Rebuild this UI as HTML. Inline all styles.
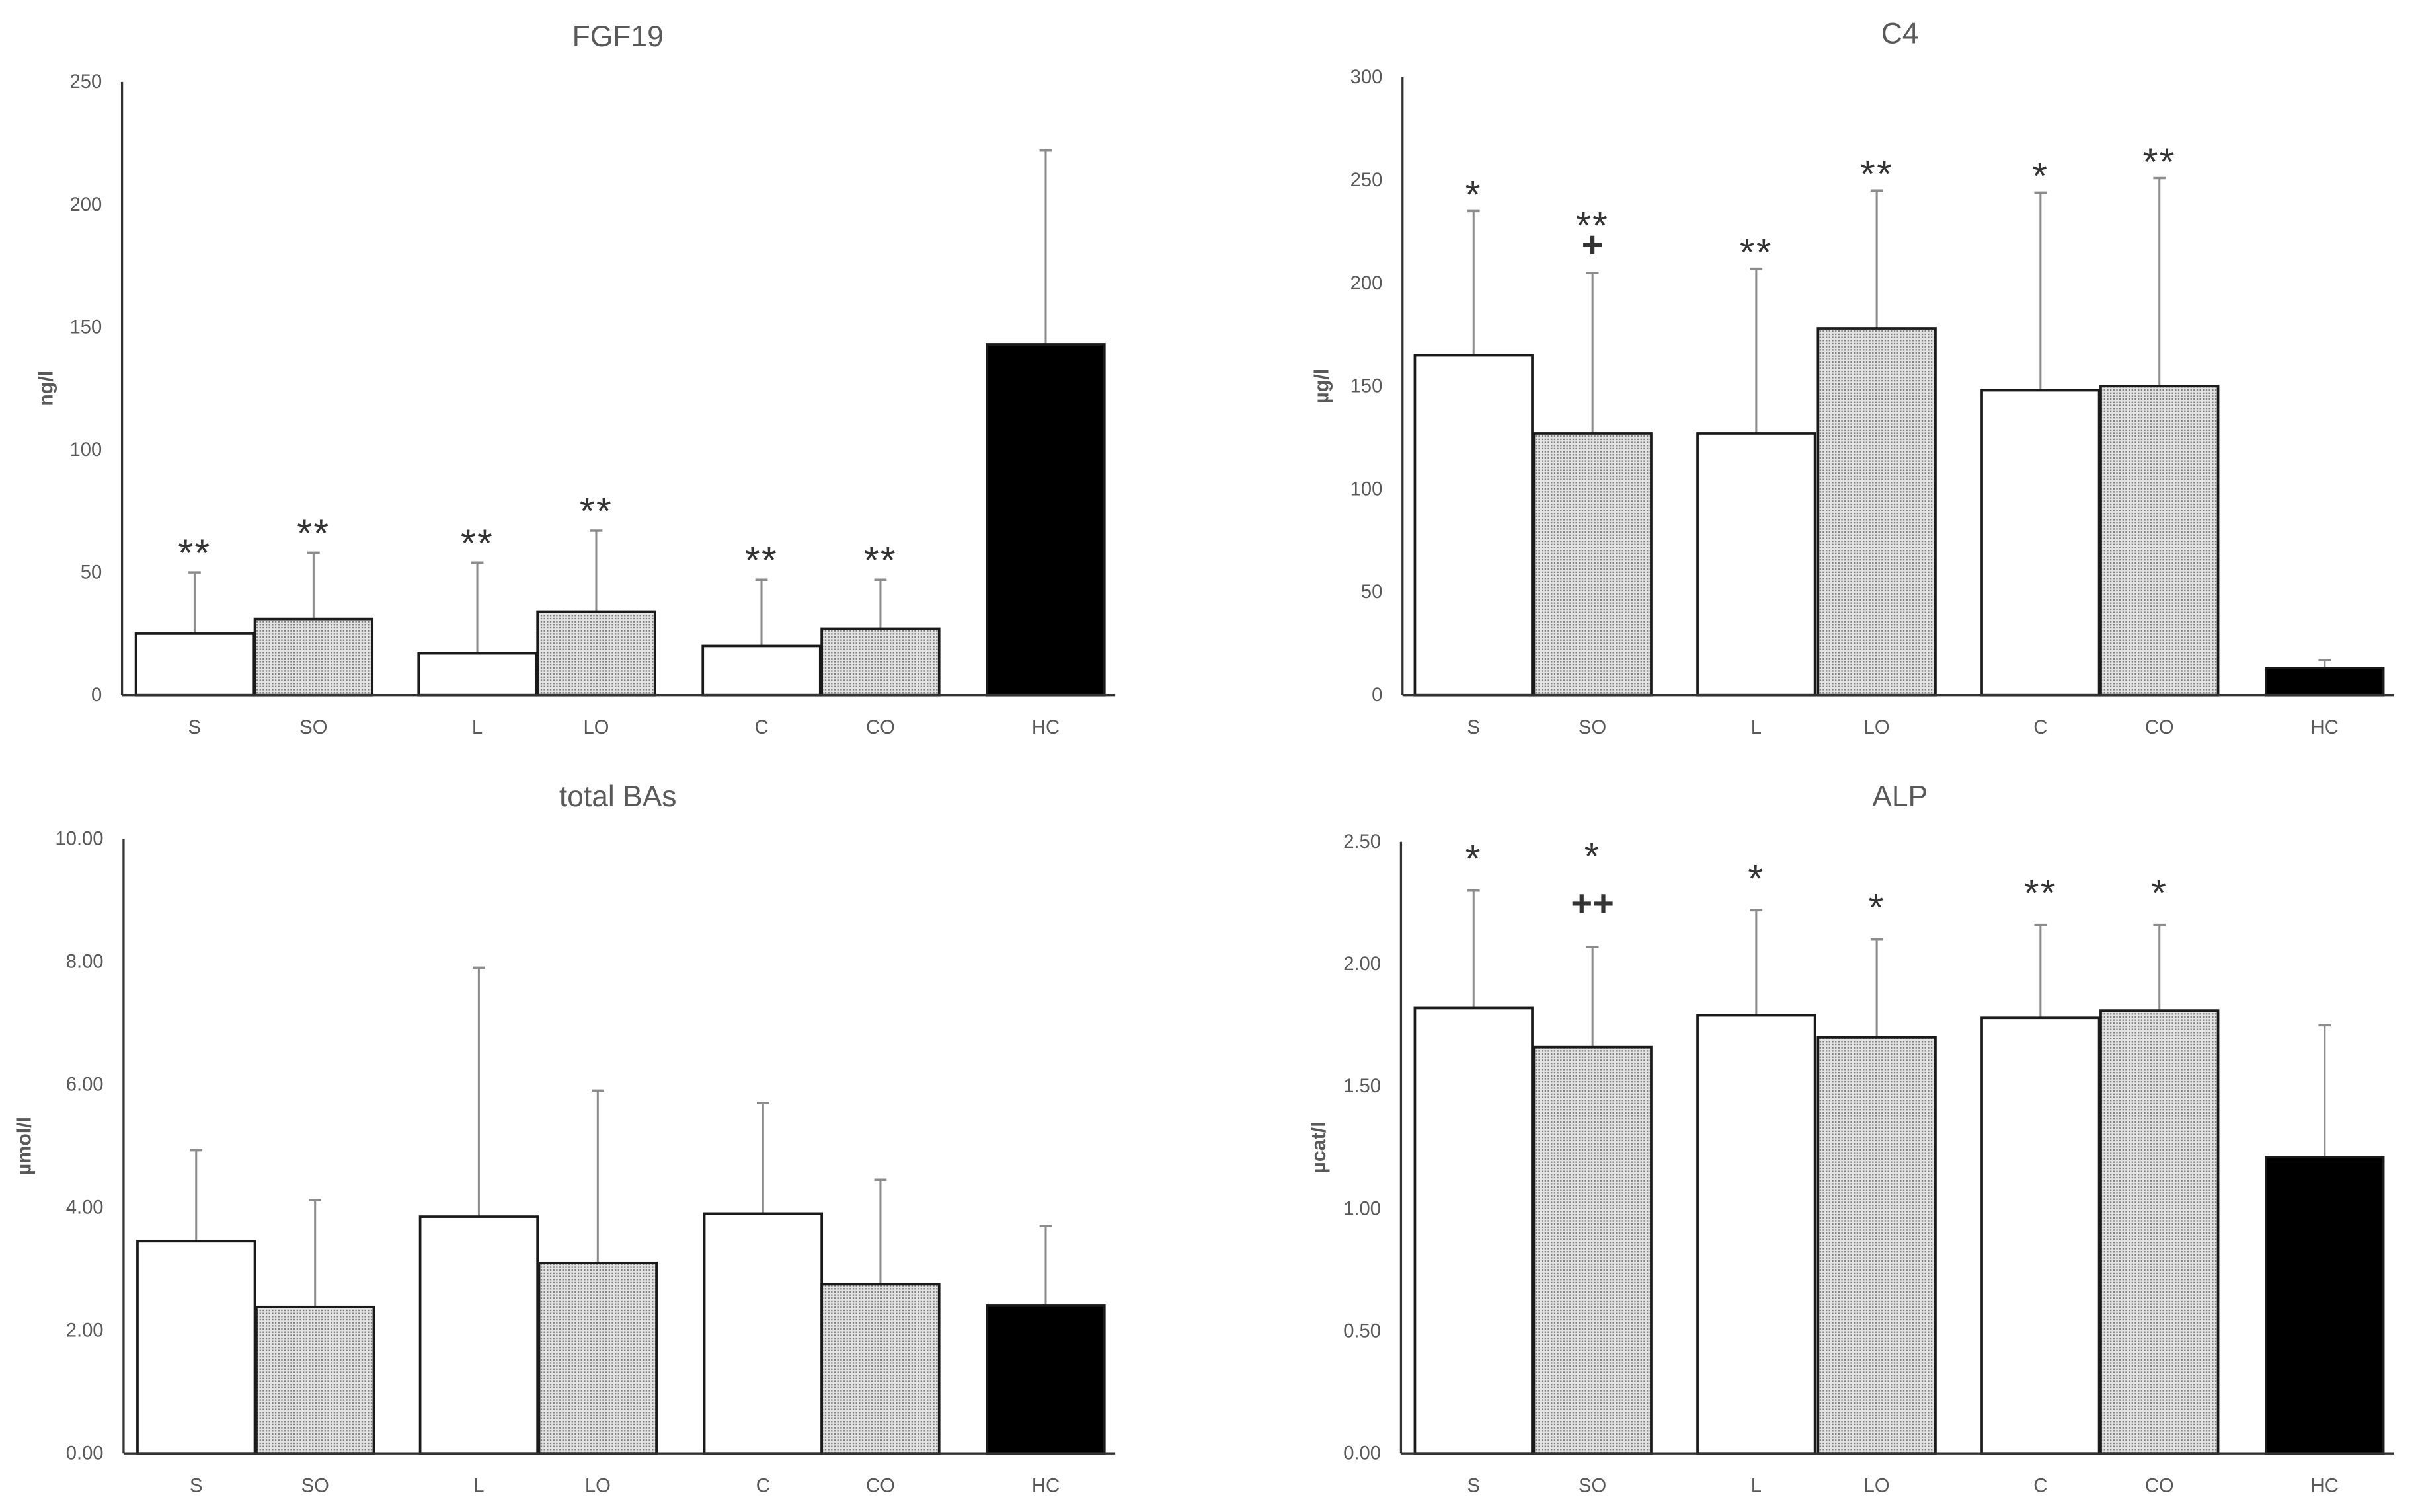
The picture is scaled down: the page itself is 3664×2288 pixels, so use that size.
<!DOCTYPE html>
<html><head><meta charset="utf-8">
<style>
html,body{margin:0;padding:0;background:#fff;}
svg{display:block;}
text{font-family:"Liberation Sans",sans-serif;}
</style></head>
<body>
<svg id="fig" width="3664" height="2288" viewBox="0 0 1568 979" preserveAspectRatio="none" xmlns="http://www.w3.org/2000/svg">
<defs>
<pattern id="dots" patternUnits="userSpaceOnUse" width="2" height="2">
<rect width="2" height="2" fill="#e3e3e3"/>
<rect width="1" height="1" fill="#808080"/>
</pattern>
</defs>
</svg>
<script>
const categories = ["S","SO","L","LO","C","CO","HC"];
const fgfValues = [25,31,17,34,20,27,143];
const fgfErrTop = [50,58,54,67,47,47,222];
const fgfAnnot = [["**"],["**"],["**"],["**"],["**"],["**"],[]];
const fgfTicks = ["0","50","100","150","200","250"];
const c4Values = [165,127,127,178,148,150,13];
const c4ErrTop = [235,205,207,245,244,251,17];
const c4Annot = [["*"],["**","+"],["**"],["**"],["*"],["**"],[]];
const c4Ticks = ["0","50","100","150","200","250","300"];
const baValues = [3.45,2.38,3.85,3.1,3.9,2.75,2.4];
const baErrTop = [4.93,4.12,7.9,5.9,5.7,4.45,3.7];
const baAnnot = [[],[],[],[],[],[],[]];
const baTicks = ["0.00","2.00","4.00","6.00","8.00","10.00"];
const alpValues = [1.82,1.66,1.79,1.70,1.78,1.81,1.21];
const alpErrTop = [2.30,2.07,2.22,2.10,2.16,2.16,1.75];
const alpAnnot = [["*"],["*","++"],["*"],["*"],["**"],["*"],[]];
const alpTicks = ["0.00","0.50","1.00","1.50","2.00","2.50"];

const NS="http://www.w3.org/2000/svg";
const svg=document.getElementById('fig');
function mk(tag,attrs,parent){const e=document.createElementNS(NS,tag);for(const k in attrs)e.setAttribute(k,attrs[k]);(parent||svg).appendChild(e);return e;}

function drawChart(cfg){
  const g=mk('g',{});
  
  
  const ticks=cfg.ticks.map(Number);
  const maxV=ticks[ticks.length-1];
  const y=v=>cfg.base-(v/maxV)*(cfg.base-cfg.top);
  const t=mk('text',{x:cfg.titleX,y:cfg.titleY,'font-size':19,fill:'#595959','text-anchor':'middle'},g);
  t.textContent=cfg.title;
  
  
  const yl=mk('text',{x:0,y:0,'font-size':13,fill:'#595959','text-anchor':'middle','font-weight':'bold',transform:`translate(${cfg.ylabelX},${(cfg.top+cfg.base)/2}) rotate(-90)`},g);
  yl.textContent=cfg.ylabel;
  
  
  cfg.ticks.forEach((lab,i)=>{
    const tt=mk('text',{x:cfg.axisX-13,y:y(ticks[i])+4,'font-size':12.5,fill:'#595959','text-anchor':'end'},g);
    tt.textContent=lab;
    
    
  });
  const bw=76;
  categories.forEach((c,i)=>{
    const x0=cfg.barX[i];
    const cx=x0+bw/2;
    const fill=i===6?'#000':(i%2===1?'url(#dots)':'#fff');
    const eb=mk('line',{x1:cx,x2:cx,y1:y(cfg.values[i]),y2:y(cfg.err[i]),stroke:'#8c8c8c','stroke-width':1.3},g);
    
    
    mk('line',{x1:cx-4,x2:cx+4,y1:y(cfg.err[i]),y2:y(cfg.err[i]),stroke:'#8c8c8c','stroke-width':1.5},g);
    const r=mk('rect',{x:x0,y:y(cfg.values[i]),width:bw,height:cfg.base-y(cfg.values[i]),fill:fill,stroke:'#1a1a1a','stroke-width':1.6},g);
    
    
    const xl=mk('text',{x:cx,y:cfg.base+25,'font-size':12.5,fill:'#595959','text-anchor':'middle'},g);
    xl.textContent=c;
    
    
    const ann=cfg.annot[i];
    for(let k=ann.length-1,row=0;k>=0;k--,row++){
      const isPlus=ann[k].indexOf('+')>=0;
      const base=y(cfg.err[i])-cfg.annOff;
      const yy=isPlus?base-8:base-row*cfg.rowGap;
      const a=mk('text',{x:cx,y:yy,'font-size':isPlus?24:25,fill:'#333','text-anchor':'middle','letter-spacing':isPlus?0:1,'font-weight':isPlus?'bold':'normal'},g);
      a.textContent=ann[k];
      
      
    }
  });
  const ax=mk('line',{x1:cfg.axisX,x2:cfg.axisX,y1:cfg.top,y2:cfg.base,stroke:'#333','stroke-width':1.4},g);
  
  
  const bx=mk('line',{x1:cfg.axisX,x2:cfg.axisEnd,y1:cfg.base,y2:cfg.base,stroke:'#333','stroke-width':1.4},g);
  
  
}
const leftX=[88,165,271,348,455,532,639];
const rightX=[916,993,1099,1177,1283,1360,1467];
drawChart({name:'fgf19-chart',title:'FGF19',titleX:400,titleY:30,ylabel:'ng/l',ylabelX:34,axisX:79,axisEnd:722,top:53,base:450,ticks:fgfTicks,values:fgfValues,err:fgfErrTop,annot:fgfAnnot,barX:leftX,annOff:4,rowGap:20});
drawChart({name:'c4-chart',title:'C4',titleX:1230,titleY:28,ylabel:'µg/l',ylabelX:860,axisX:908,axisEnd:1550,top:50,base:450,ticks:c4Ticks,values:c4Values,err:c4ErrTop,annot:c4Annot,barX:rightX,annOff:2,rowGap:20});
drawChart({name:'total-bas-chart',title:'total BAs',titleX:400,titleY:522,ylabel:'µmol/l',ylabelX:20,axisX:80,axisEnd:722,top:543,base:941,ticks:baTicks,values:baValues,err:baErrTop,annot:baAnnot,barX:[89,166,272,349,456,532,639],annOff:4,rowGap:20});
drawChart({name:'alp-chart',title:'ALP',titleX:1230,titleY:522,ylabel:'µcat/l',ylabelX:858,axisX:907,axisEnd:1550,top:545,base:941,ticks:alpTicks,values:alpValues,err:alpErrTop,annot:alpAnnot,barX:rightX,annOff:12,rowGap:38});
</script>
</body></html>
